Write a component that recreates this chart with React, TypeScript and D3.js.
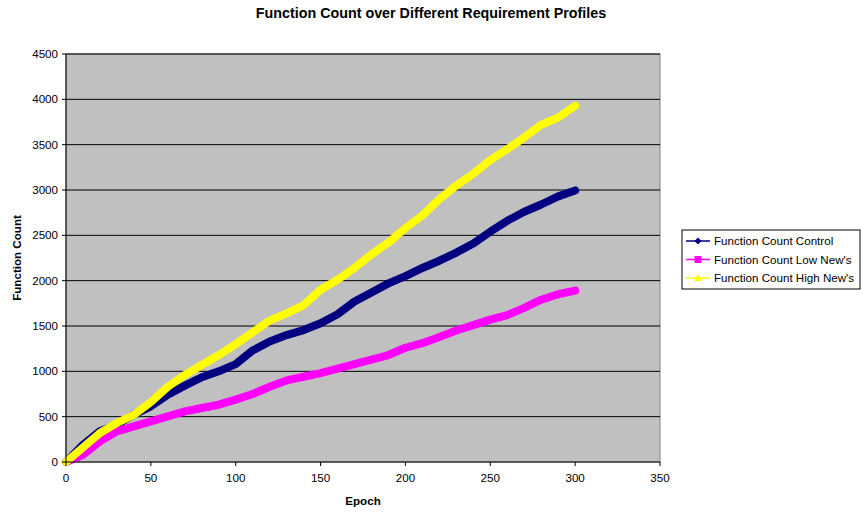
import React from "react";
import * as d3 from "d3";

const epochs = [0, 10, 20, 30, 40, 50, 60, 70, 80, 90, 100, 110, 120, 130, 140, 150, 160, 170, 180, 190, 200, 210, 220, 230, 240, 250, 260, 270, 280, 290, 300];
const control = [0, 190, 340, 412, 522, 614, 743, 842, 935, 1000, 1080, 1230, 1330, 1400, 1455, 1530, 1630, 1770, 1870, 1970, 2050, 2140, 2220, 2310, 2410, 2540, 2660, 2760, 2840, 2930, 2995];
const lowNews = [0, 80, 228, 338, 393, 448, 504, 559, 596, 632, 688, 750, 830, 900, 940, 980, 1030, 1080, 1130, 1180, 1260, 1310, 1380, 1450, 1510, 1570, 1620, 1700, 1790, 1850, 1890];
const highNews = [0, 160, 320, 430, 520, 660, 830, 960, 1070, 1180, 1300, 1430, 1560, 1640, 1730, 1900, 2010, 2140, 2290, 2420, 2580, 2720, 2900, 3050, 3180, 3330, 3450, 3580, 3720, 3800, 3930];

const xTicks = [0, 50, 100, 150, 200, 250, 300, 350];
const yTicks = [0, 500, 1000, 1500, 2000, 2500, 3000, 3500, 4000, 4500];

const seriesNames = ["Function Count Control", "Function Count Low New's", "Function Count High New's"];
const seriesColors = ["#000080", "#FF00FF", "#FFFF00"];

const W = 863, H = 513;
const L = 66, R = 660, T = 54, B = 462;

export default function App() {
  const x = d3.scaleLinear().domain([0, 350]).range([L, R]);
  const y = d3.scaleLinear().domain([0, 4500]).range([B, T]);
  const series = [control, lowNews, highNews];
  const line = d3.line<number>().x((_, i) => x(epochs[i])).y((d) => y(d)).curve(d3.curveLinear);
  const font = "'Liberation Sans', Arial, sans-serif";

  const marker = (k: number, cx: number, cy: number) => {
    const c = seriesColors[k];
    if (k === 0) return <path d={`M${cx},${cy - 3.5}L${cx + 3.5},${cy}L${cx},${cy + 3.5}L${cx - 3.5},${cy}Z`} fill={c} />;
    if (k === 1) return <rect x={cx - 3.5} y={cy - 3.5} width={7} height={7} fill={c} />;
    return <path d={`M${cx},${cy - 4}L${cx + 4},${cy + 3}L${cx - 4},${cy + 3}Z`} fill={c} />;
  };

  return (
    <svg width={W} height={H} style={{ position: "absolute", left: 0, top: 0 }} fontFamily={font}>
      <rect x={0} y={0} width={W} height={H} fill="#fff" />
      <text x={431} y={18} textAnchor="middle" fontSize={14.3} fontWeight="bold">Function Count over Different Requirement Profiles</text>
      <rect x={L} y={T} width={R - L} height={B - T} fill="#C0C0C0" stroke="#808080" strokeWidth={1} />
      {yTicks.filter((t) => t > 0).map((t) => (
        <line key={t} x1={L} x2={R} y1={y(t)} y2={y(t)} stroke="#000" strokeWidth={1} />
      ))}
      {series.map((s, k) => (
        <path key={k} d={line(s) || ""} fill="none" stroke={seriesColors[k]} strokeWidth={8} strokeLinejoin="round" strokeLinecap="round" />
      ))}
      <line x1={L} x2={L} y1={T} y2={B} stroke="#000" />
      <line x1={L} x2={R} y1={B} y2={B} stroke="#000" />
      {yTicks.map((t) => (
        <g key={t}>
          <line x1={L - 4} x2={L} y1={y(t)} y2={y(t)} stroke="#000" />
          <text x={58} y={y(t) + 4} textAnchor="end" fontSize={11.6}>{t}</text>
        </g>
      ))}
      {xTicks.map((t) => (
        <g key={t}>
          <line x1={x(t)} x2={x(t)} y1={B} y2={B + 4} stroke="#000" />
          <text x={x(t)} y={482} textAnchor="middle" fontSize={11.6}>{t}</text>
        </g>
      ))}
      <text x={363} y={505} textAnchor="middle" fontSize={11.6} fontWeight="bold">Epoch</text>
      <text transform={`translate(21,${(T + B) / 2}) rotate(-90)`} textAnchor="middle" fontSize={11.6} fontWeight="bold">Function Count</text>
      <rect x={682} y={230} width={178} height={59} fill="#fff" stroke="#000" />
      {seriesNames.map((n, k) => {
        const cy = 241 + k * 18.5;
        return (
          <g key={n}>
            <line x1={686} x2={710} y1={cy} y2={cy} stroke={seriesColors[k]} strokeWidth={1.5} />
            {marker(k, 698, cy)}
            <text x={714} y={cy + 4} fontSize={11.6}>{n}</text>
          </g>
        );
      })}
    </svg>
  );
}
